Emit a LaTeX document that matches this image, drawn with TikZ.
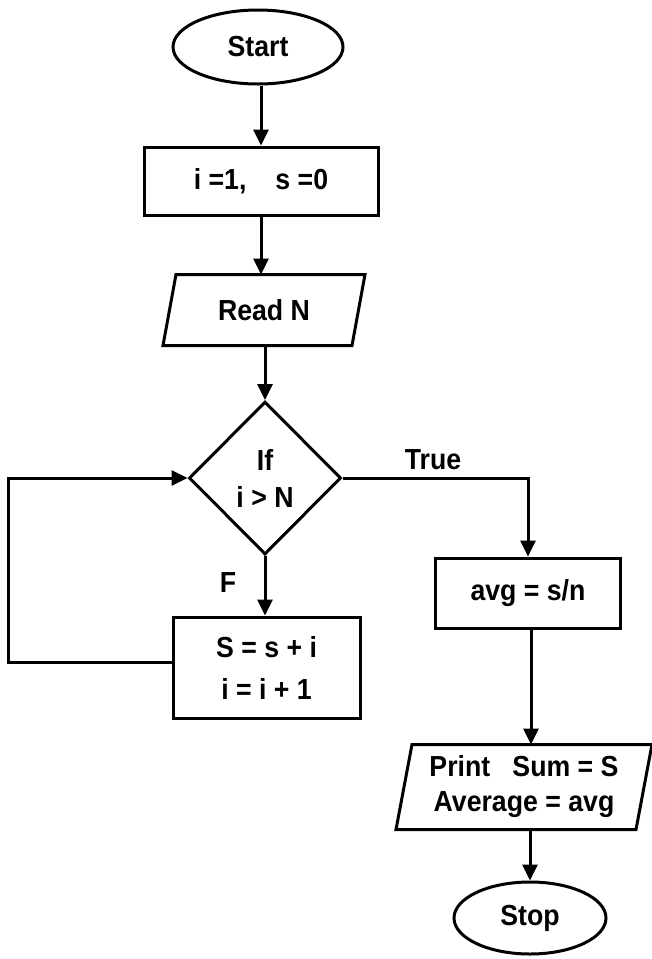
\documentclass[tikz,border=0pt]{standalone}
\usepackage{fontspec}
\setmainfont{Liberation Sans}[FakeStretch=0.92]
\usetikzlibrary{shapes.geometric,arrows.meta}
\begin{document}
\begin{tikzpicture}[x=1pt,y=-1pt,
  line width=3pt,
  every node/.style={font=\fontsize{29}{36}\selectfont\bfseries, align=center, inner sep=0pt},
  term/.style={draw, ellipse},
  proc/.style={draw, rectangle},
  iobox/.style={rectangle},
  decision/.style={draw, diamond},
  arr/.style={-{Triangle[length=16pt,width=15pt]}},
  lbl/.style={}
]
\useasboundingbox (0,0) rectangle (652,959);

\node[term, minimum width=170pt, minimum height=74pt] (start) at (258,47) {Start};
\node[proc, minimum width=234pt, minimum height=68pt] (init) at (261,181) {i =1,\quad s =0};
\node[iobox, minimum width=186pt, minimum height=68pt] (read) at (264,310) {Read N};
\draw ([xshift=6.5pt]read.north west) -- ([xshift=6.5pt]read.north east)
   -- ([xshift=-6.5pt]read.south east) -- ([xshift=-6.5pt]read.south west) -- cycle;
\node[decision, minimum width=152pt, minimum height=153pt,
      font=\fontsize{29}{37}\selectfont\bfseries] (dec) at (265,478) {If\\i > N};
\node[proc, minimum width=187pt, minimum height=101pt,
      font=\fontsize{29}{42}\selectfont\bfseries] (loop) at (266.5,667.5) {S = s + i\\i = i + 1};
\node[proc, minimum width=185pt, minimum height=70pt] (avg) at (528,593) {avg = s/n};
\node[iobox, minimum width=237pt, minimum height=82pt,
      font=\fontsize{29}{35}\selectfont\bfseries] (print) at (524,787) {Print\ \ \ Sum = S\\Average = avg};
\draw ([xshift=8pt]print.north west) -- ([xshift=8pt]print.north east)
   -- ([xshift=-8pt]print.south east) -- ([xshift=-8pt]print.south west) -- cycle;
\node[term, minimum width=152pt, minimum height=72pt] (stop) at (530,918) {Stop};

\node[lbl] (tlab) at (433,460) {True};
\node[lbl] (flab) at (228,583) {F};

\draw[arr] (start.south -| init.north) -- (init.north);
\draw[arr] (init.south) -- (init.south |- read.north);
\draw[arr] (read.south -| dec.north) -- (dec.north);
\draw[arr] (dec.south) -- (dec.south |- loop.north);
\draw[arr] ([yshift=5pt]loop.west) -- ++(-163,0) |- (dec.west);
\draw[arr] (dec.east) -| (avg.north);
\draw[arr] ([xshift=3pt]avg.south) -- ([xshift=3pt]avg.south |- print.north);
\draw[arr] (print.south -| stop.north) -- (stop.north);
\end{tikzpicture}
\end{document}
